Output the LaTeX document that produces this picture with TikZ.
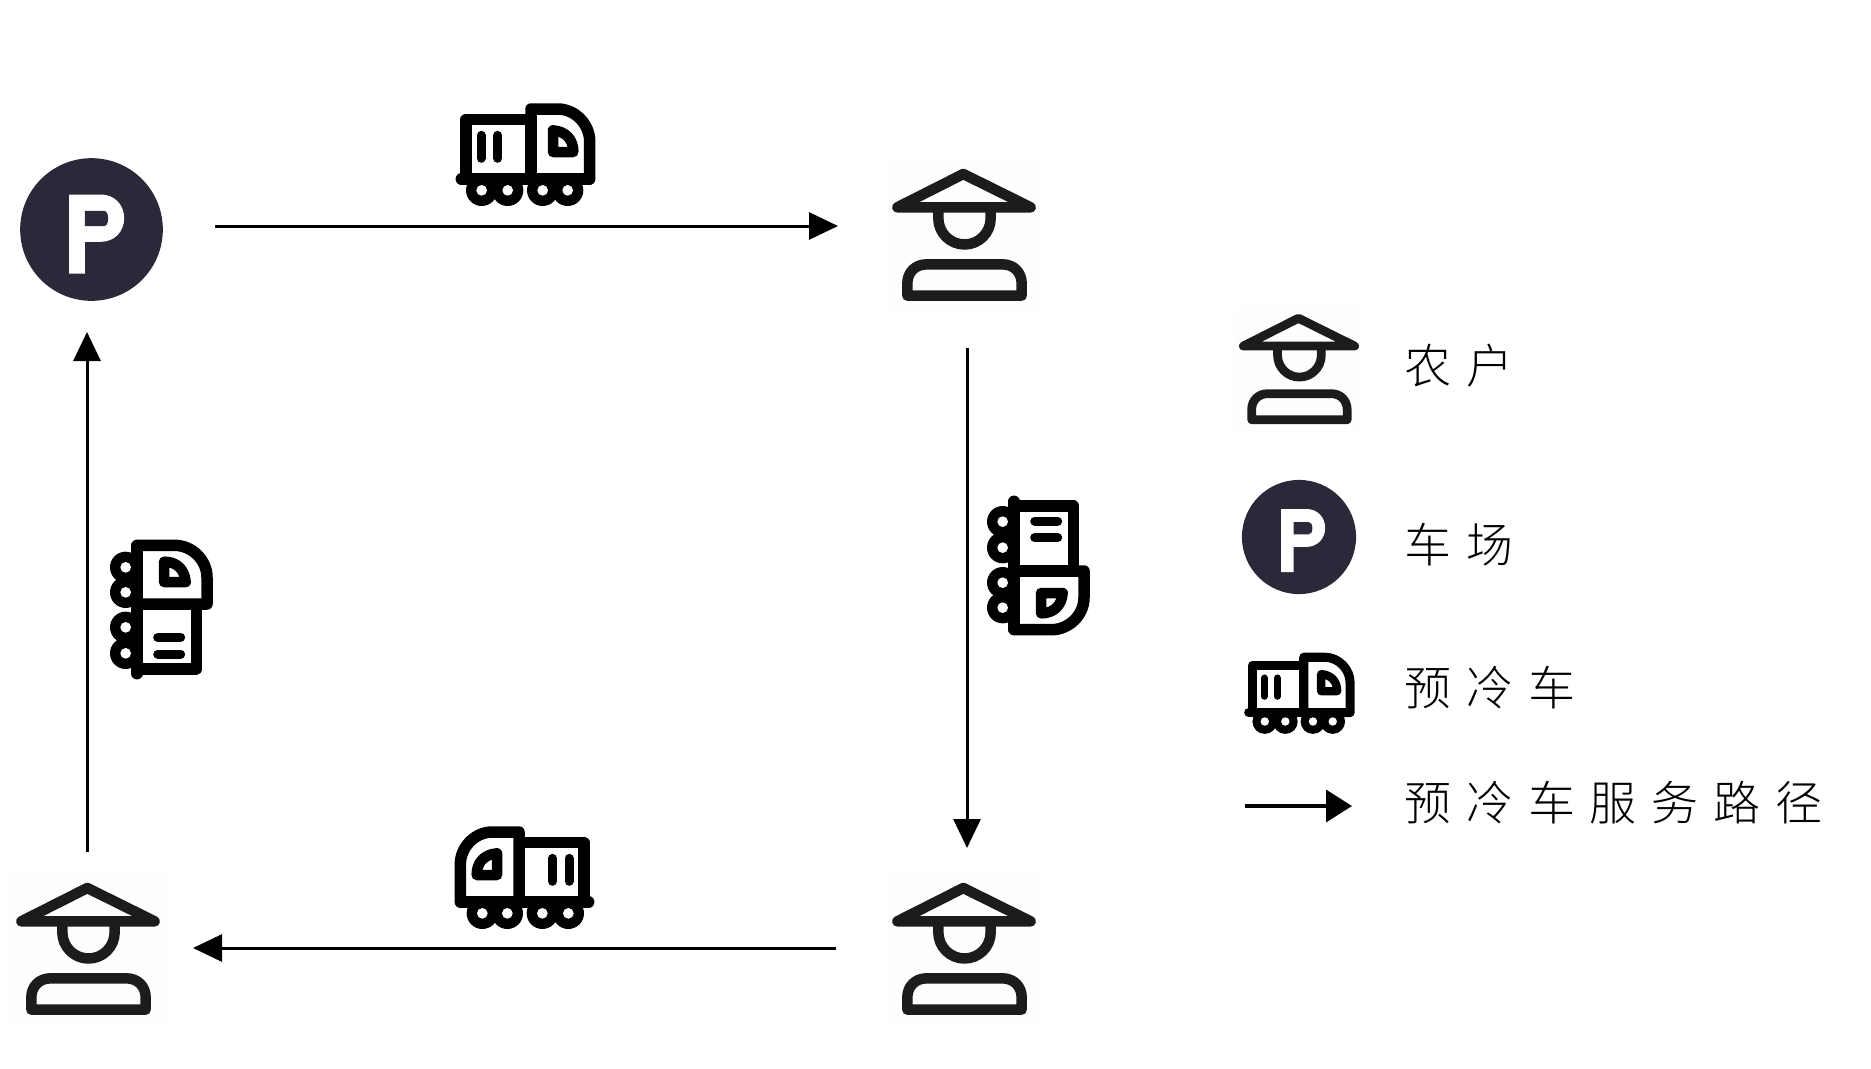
\documentclass[tikz,border=0pt]{standalone}
\usepackage{fontspec}
\newfontfamily\cjk[UprightFont=* Light,BoldFont=*]{Noto Sans CJK SC}
\usetikzlibrary{arrows.meta}
\definecolor{inkdark}{HTML}{1C1C1C}
\definecolor{depotblue}{HTML}{2A2839}
\definecolor{faintbg}{HTML}{FEFEFE}
\newcommand{\farmerIcon}[3]{%
\begin{scope}[shift={(#1,#2)},scale=#3/3,shift={(-252,-258)}]
\fill[faintbg] (21,24) rectangle (483,492);
\begin{scope}[draw=inkdark,line width=#3*10.5pt,line join=round,line cap=round]
\draw (52,172) -- (250,72) -- (452,172) -- cycle;
\draw (175,185) -- (175,205) .. controls (175,248) and (210,283.5) .. (253.5,283.5) .. controls (297,283.5) and (332,248) .. (332,205) -- (332,185);
\draw (82,437) -- (82,400) .. controls (82,368) and (105,343) .. (140,343) -- (367,343) .. controls (402,343) and (425,368) .. (425,400) -- (425,437) -- cycle;
\end{scope}
\end{scope}}
\newcommand{\depotIcon}[3]{%
\begin{scope}[shift={(#1,#2)},scale=#3/3,shift={(-272,-268)}]
\fill[depotblue] (272,268) circle[radius=214];
\fill[white] (205,163) -- (300,163) .. controls (340,163) and (370,193) .. (370,234) .. controls (370,275) and (340,305) .. (300,305) -- (252,305) -- (252,400) -- (205,400) -- cycle;
\fill[depotblue] (252,212) -- (308,212) .. controls (318,212) and (322,222) .. (322,235) .. controls (322,248) and (318,258) .. (308,258) -- (252,258) -- cycle;
\end{scope}}
\newcommand{\truckIcon}[2]{%
\begin{scope}[#1,scale=#2/3,shift={(-257,-190)}]
\fill[black] (127,302) circle[radius=47] (205,302) circle[radius=47] (310,302) circle[radius=47] (385,302) circle[radius=47];
\begin{scope}[line join=round,line cap=round,line width=#2*11.5pt]
\draw[fill=white] (80,268) -- (80,90) -- (275,90) -- (275,268) -- cycle;
\draw[fill=white] (275,268) -- (275,58) -- (355,58) .. controls (407,58) and (451,103) .. (451,155) -- (451,268) -- cycle;
\draw (66,268) -- (450,268);
\draw[line width=#2*9pt] (125,137) -- (125,206) (175,137) -- (175,206);
\draw[line width=#2*10.5pt] (341,122) .. controls (380,125) and (402,150) .. (402,187) -- (341,187) -- cycle;
\end{scope}
\fill[white] (127,302) circle[radius=16] (205,302) circle[radius=16] (310,302) circle[radius=16] (385,302) circle[radius=16];
\end{scope}}
\newcommand{\gapchars}{\kern15pt}
\tikzset{
  route/.style={line width=3pt,-{Triangle[length=29pt,width=27pt]}},
  keyroute/.style={line width=3.6pt,-{Triangle[length=26pt,width=32pt]}},
  anchorbox/.style={inner sep=0pt,outer sep=0pt,draw=none},
  legendtext/.style={anchor=west,inner sep=0pt,outer sep=0pt,font=\cjk\fontsize{47}{50}\selectfont}
}
\begin{document}
\begin{tikzpicture}[x=1pt,y=-1pt]
\useasboundingbox (0,0) rectangle (1871,1068);
\fill[white] (0,0) rectangle (1871,1068);
% icons
\depotIcon{91.5}{229.5}{1}
\farmerIcon{964}{236}{1}
\farmerIcon{964}{950}{1}
\farmerIcon{88}{950}{1}
\truckIcon{shift={(525,153)}}{1}
\truckIcon{shift={(1040,565)},rotate=-90}{1}
\truckIcon{shift={(525,876)},xscale=-1}{1}
\truckIcon{shift={(163,610)},rotate=90,yscale=-1}{1}
% anchors of the route
\node[anchorbox,minimum width=256pt,minimum height=212pt] (depot) at (87,226) {};
\node[anchorbox,minimum width=258pt,minimum height=244pt] (farmerA) at (967,226) {};
\node[anchorbox,minimum width=262pt,minimum height=200pt] (farmerB) at (967,948) {};
\node[anchorbox,minimum width=212pt,minimum height=192pt] (farmerC) at (87,948) {};
\draw[route] (depot.east) -- (farmerA.west);
\draw[route] (farmerA.south) -- (farmerB.north);
\draw[route] (farmerB.west) -- (farmerC.east);
\draw[route] (farmerC.north) -- (depot.south);
% legend
\farmerIcon{1299}{370}{0.835}
\depotIcon{1299}{537}{0.8}
\truckIcon{shift={(1299,692)}}{0.79}
\coordinate (keyStart) at (1245,806);
\coordinate (keyEnd) at (1352,806);
\draw[keyroute] (keyStart) -- (keyEnd);
\node[legendtext] (t1) at (1404,366) {农\gapchars 户};
\node[legendtext] (t2) at (1404,545) {车\gapchars 场};
\node[legendtext] (t3) at (1404,688) {预\gapchars 冷\gapchars 车};
\node[legendtext] (t4) at (1404,803) {预\gapchars 冷\gapchars 车\gapchars 服\gapchars 务\gapchars 路\gapchars 径};
\end{tikzpicture}
\end{document}
